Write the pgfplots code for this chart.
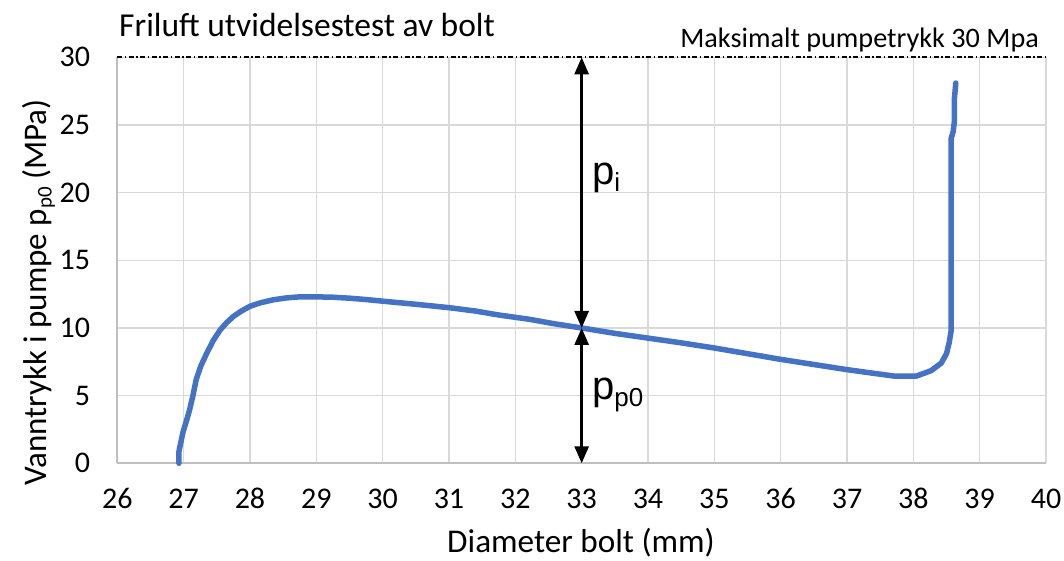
\documentclass[border=0pt]{standalone}
\usepackage{pgfplots}
\pgfplotsset{compat=1.18}
\usepackage{fontspec}
\setmainfont{Carlito}
\newfontfamily\arial{Liberation Sans}
\usetikzlibrary{arrows.meta}
\definecolor{curve}{HTML}{4472C4}
\definecolor{gridc}{HTML}{D9D9D9}
\definecolor{axc}{HTML}{BFBFBF}
\begin{document}
\begin{tikzpicture}
\path[use as bounding box] (-117.3pt,-97.7pt) rectangle (946.7pt,463.3pt);
\begin{axis}[
  at={(0pt,0pt)}, anchor=south west,
  scale only axis, width=928.7pt, height=406pt,
  xmin=26, xmax=40, ymin=0, ymax=30,
  xtick={26,27,...,40}, ytick={0,5,...,30},
  grid=major, major grid style={draw=gridc, line width=1.3pt},
  axis x line*=bottom, axis y line*=left,
  axis line style={draw=axc, line width=1.6pt, -},
  tick style={draw=none},
  /pgf/number format/assume math mode=true,
  tick label style={font=\fontsize{30}{34}\selectfont, inner sep=0pt},
  xticklabel style={anchor=base, yshift=-45pt},
  yticklabel style={anchor=east, xshift=-27pt},
  clip=false,
]
\addplot[curve, line width=5.5pt, line join=round, line cap=round] coordinates {
(26.93,0) (26.93,0.9) (26.96,1.6) (26.99,2.3) (27.04,3.1) (27.09,3.95)
(27.14,5.0) (27.19,6.2) (27.26,7.2) (27.35,8.15) (27.45,9.1) (27.55,9.85)
(27.65,10.4) (27.75,10.85) (27.87,11.25) (28.0,11.6) (28.15,11.85) (28.35,12.08)
(28.55,12.22) (28.75,12.3) (29.0,12.3) (29.25,12.27) (29.5,12.2) (29.75,12.1)
(30.0,11.98) (30.5,11.75) (31.0,11.5) (31.4,11.25) (31.76,10.95) (32.2,10.65)
(32.6,10.3) (33.0,10.0) (33.5,9.6) (34.0,9.25) (34.5,8.9) (35.0,8.52)
(35.5,8.1) (36.0,7.68) (36.5,7.3) (37.0,6.92) (37.4,6.65) (37.7,6.45)
(38.05,6.45) (38.27,6.85) (38.42,7.4) (38.5,8.1) (38.54,8.9) (38.57,9.8)
(38.57,15) (38.57,20) (38.57,24.0) (38.6,24.5) (38.62,25.3) (38.62,27.0) (38.64,28.1)
};
\draw[black, line width=2pt, dash pattern=on 5pt off 2.5pt on 1.5pt off 2.5pt] (axis cs:26,30) -- (axis cs:40,30);
\draw[black, line width=2.7pt, {Triangle[length=17pt,width=14pt]}-{Triangle[length=17pt,width=14pt]}] (axis cs:33,10) -- (axis cs:33,30);
\draw[black, line width=2.7pt, {Triangle[length=17pt,width=14pt]}-{Triangle[length=17pt,width=14pt]}] (axis cs:33,10) -- (axis cs:33,0);
\end{axis}
\node[anchor=base west, inner sep=0pt, font=\fontsize{33.5}{38}\selectfont] at (1.7pt,426.3pt) {Friluft utvidelsestest av bolt};
\node[anchor=base east, inner sep=0pt, font=\fontsize{28.2}{32}\selectfont] at (921.7pt,415.3pt) {Maksimalt pumpetrykk 30 Mpa};
\node[anchor=base, inner sep=0pt, font=\fontsize{33.2}{38}\selectfont] at (463.7pt,-89.7pt) {Diameter bolt (mm)};
\node[anchor=base, rotate=90, inner sep=0pt, font=\fontsize{33}{38}\selectfont] at (-70.6pt,170.8pt) {Vanntrykk i pumpe p\raisebox{-5pt}{\fontsize{21}{24}\selectfont p0} (MPa)};
\node[anchor=base west, inner sep=0pt, font=\arial\fontsize{40}{44}\selectfont] at (474.7pt,278.3pt) {p\raisebox{-7pt}{\fontsize{26}{28}\selectfont i}};
\node[anchor=base west, inner sep=0pt, font=\arial\fontsize{40}{44}\selectfont] at (474.7pt,63.3pt) {p\raisebox{-7pt}{\fontsize{26}{28}\selectfont p0}};
\end{tikzpicture}
\end{document}
